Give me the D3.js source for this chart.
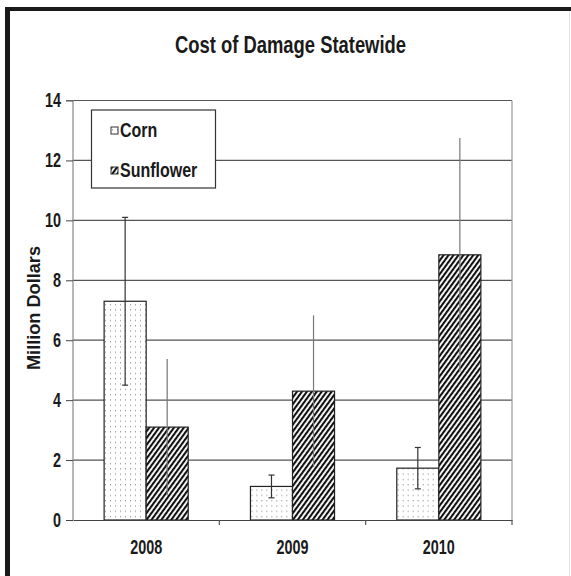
<!DOCTYPE html>
<html><head><meta charset="utf-8">
<script src="https://cdn.jsdelivr.net/npm/d3@7"></script>
<style>
html,body{margin:0;padding:0;background:#fff;}
svg{display:block;}
.narrow{font-family:"Liberation Sans",Arial,sans-serif;font-weight:bold;}
</style></head>
<body><svg id="chart" width="571" height="576"></svg>
<script>
const years = ["2008", "2009", "2010"];
const seriesNames = ["Corn", "Sunflower"];
const cornValues = [7.3, 1.12, 1.73];
const cornErrors = [2.8, 0.38, 0.69];
const sunflowerValues = [3.1, 4.3, 8.85];
const sunflowerErrors = [2.27, 2.53, 3.9];
const yTicks = [0, 2, 4, 6, 8, 10, 12, 14];
const titleText = "Cost of Damage Statewide";
const yLabel = "Million Dollars";

const svg = d3.select("#chart");
const W = 571, H = 576;
const m = {left: 73, right: 512, top: 100.5, bottom: 520};

function condense(sel, f) {
  sel.each(function() {
    const len = this.getComputedTextLength();
    d3.select(this).attr("textLength", len * f).attr("lengthAdjust", "spacingAndGlyphs");
  });
}

svg.append("rect").attr("width", W).attr("height", H).attr("fill", "#fff");

// patterns
const defs = svg.append("defs");
const dots = defs.append("pattern").attr("id", "dots").attr("patternUnits", "userSpaceOnUse")
  .attr("width", 5).attr("height", 5.3);
dots.append("rect").attr("width", 5).attr("height", 5.3).attr("fill", "#fff");
dots.append("rect").attr("x", 2).attr("y", 2).attr("width", 1).attr("height", 1).attr("fill", "#777");
const hatch = defs.append("pattern").attr("id", "hatch").attr("patternUnits", "userSpaceOnUse")
  .attr("width", 4).attr("height", 4).attr("patternTransform", "rotate(36)");
hatch.append("rect").attr("width", 4).attr("height", 4).attr("fill", "#fff");
hatch.append("rect").attr("x", 0).attr("y", 0).attr("width", 2.1).attr("height", 4).attr("fill", "#111");

const x0 = d3.scaleBand().domain(years).range([m.left, m.right]).paddingInner(0).paddingOuter(0);
const x1 = d3.scaleBand().domain(seriesNames).range([0, x0.bandwidth()]).paddingInner(0).paddingOuter(0.74);
const y = d3.scaleLinear().domain([0, 14]).range([m.bottom, m.top]);

// gridlines
svg.append("g").selectAll("line").data(yTicks.filter(t => t > 0)).join("line")
  .attr("x1", m.left).attr("x2", m.right)
  .attr("y1", d => y(d)).attr("y2", d => y(d))
  .attr("stroke", "#555").attr("stroke-width", 1.2);
// right border of plot
svg.append("line").attr("x1", m.right).attr("x2", m.right).attr("y1", m.top).attr("y2", m.bottom)
  .attr("stroke", "#999").attr("stroke-width", 1.2);

// y axis
const yAxis = d3.axisLeft(y).tickValues(yTicks).tickSize(7).tickPadding(5).tickFormat(d3.format("d"));
const gy = svg.append("g").attr("transform", `translate(${m.left},0)`).call(yAxis);
gy.select(".domain").attr("stroke", "#888").attr("stroke-width", 1.2).attr("d", `M-7,${y(14)}H0V${y(0)}`);
gy.selectAll(".tick line").attr("stroke", "#444");
gy.selectAll(".tick text").attr("class", "narrow").attr("font-size", 20).attr("fill", "#1a1a1a")
  .call(condense, 0.72);

// data rows
const rows = years.map((yr, i) => ({
  year: yr,
  items: [
    {s: "Corn", v: cornValues[i], e: cornErrors[i]},
    {s: "Sunflower", v: sunflowerValues[i], e: sunflowerErrors[i]}
  ]
}));

const groups = svg.append("g").selectAll("g").data(rows).join("g")
  .attr("transform", d => `translate(${x0(d.year)},0)`);
groups.selectAll("rect").data(d => d.items).join("rect")
  .attr("x", d => x1(d.s)).attr("width", x1.bandwidth())
  .attr("y", d => y(d.v)).attr("height", d => y(0) - y(d.v))
  .attr("fill", d => d.s === "Corn" ? "url(#dots)" : "url(#hatch)")
  .attr("stroke", "#222").attr("stroke-width", 1.2);

// error bars
groups.each(function(d) {
  const g = d3.select(this);
  d.items.forEach(it => {
    const cx = x1(it.s) + x1.bandwidth() / 2;
    const col = it.s === "Corn" ? "#333" : "#777";
    g.append("line").attr("x1", cx).attr("x2", cx)
      .attr("y1", y(it.v + it.e)).attr("y2", y(it.v - it.e))
      .attr("stroke", col).attr("stroke-width", 1.2);
    if (it.s === "Corn") {
      [it.v + it.e, it.v - it.e].forEach(val => {
        g.append("line").attr("x1", cx - 3).attr("x2", cx + 3)
          .attr("y1", y(val)).attr("y2", y(val))
          .attr("stroke", col).attr("stroke-width", 1.2);
      });
    }
  });
});

// x axis
const gx = svg.append("g").attr("transform", `translate(0,${m.bottom})`)
  .call(d3.axisBottom(x0).tickSize(0).tickPadding(20));
gx.select(".domain").attr("stroke", "#444").attr("stroke-width", 1.2);
gx.selectAll(".tick text").attr("class", "narrow").attr("font-size", 20).attr("fill", "#1a1a1a")
  .call(condense, 0.72);
// category separator ticks
svg.append("g").selectAll("line").data(years).join("line")
  .attr("x1", d => x0(d) + x0.bandwidth()).attr("x2", d => x0(d) + x0.bandwidth())
  .attr("y1", m.bottom).attr("y2", m.bottom + 5)
  .attr("stroke", "#555").attr("stroke-width", 1.2);

// title
svg.append("text").attr("class", "narrow").attr("x", 290.5).attr("y", 53)
  .attr("text-anchor", "middle").attr("font-size", 24.5).attr("fill", "#1a1a1a")
  .attr("textLength", 231).attr("lengthAdjust", "spacingAndGlyphs")
  .text(titleText);

// y label
svg.append("text").attr("transform", "translate(40,308) rotate(-90)")
  .attr("text-anchor", "middle").attr("font-family", "Liberation Sans, Arial, sans-serif")
  .attr("font-weight", "bold").attr("font-size", 18).attr("fill", "#1a1a1a")
  .attr("textLength", 124).attr("lengthAdjust", "spacingAndGlyphs")
  .text(yLabel);

// legend
const lg = svg.append("g");
lg.append("rect").attr("x", 91.5).attr("y", 110).attr("width", 124).attr("height", 78)
  .attr("fill", "#fff").attr("stroke", "#333").attr("stroke-width", 1.2);
const legendY = [130.5, 170.5];
seriesNames.forEach((s, i) => {
  lg.append("rect").attr("x", 111).attr("y", legendY[i] - 3.5).attr("width", 7).attr("height", 7)
    .attr("fill", s === "Corn" ? "url(#dots)" : "url(#hatch)").attr("stroke", "#333").attr("stroke-width", 1);
  lg.append("text").attr("class", "narrow").attr("x", 120).attr("y", legendY[i] + 6.5)
    .attr("font-size", 20).attr("fill", "#1a1a1a").text(s)
    .call(condense, 0.8);
});

// outer frame
svg.append("rect").attr("x", 5).attr("y", 7).attr("width", W - 5).attr("height", 4).attr("fill", "#1a1a1a");
svg.append("rect").attr("x", 5).attr("y", 7).attr("width", 5).attr("height", H - 7).attr("fill", "#1a1a1a");
svg.append("line").attr("x1", 569.5).attr("x2", 569.5).attr("y1", 11).attr("y2", H)
  .attr("stroke", "#e4e4e4").attr("stroke-width", 1);
</script></body></html>
